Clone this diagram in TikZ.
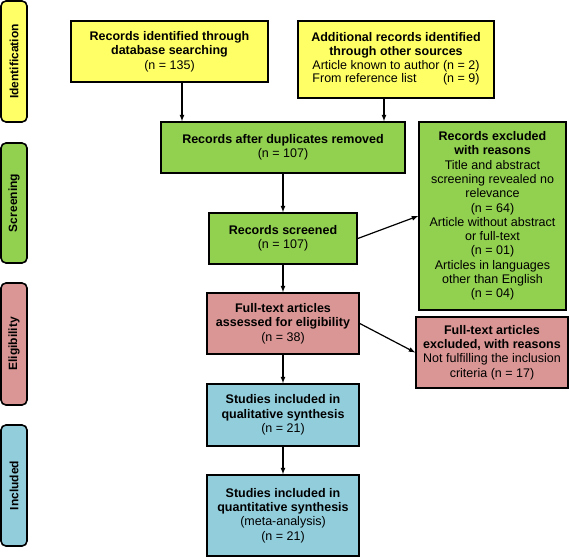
\documentclass[tikz,border=0pt]{standalone}
\usepackage{fontspec}
\setmainfont{Liberation Sans}
\usetikzlibrary{positioning,calc}
\definecolor{idyellow}{HTML}{FFFF66}
\definecolor{scgreen}{HTML}{92D050}
\definecolor{elpink}{HTML}{D99694}
\definecolor{inblue}{HTML}{92CDDC}
\tikzset{
	box/.style={draw=black, line width=1.6pt, align=center, inner sep=2pt, font=\fontsize{12.5}{14.3}\selectfont},
	phase/.style={draw=black, line width=1.6pt, rounded corners=5pt, rotate=90, minimum height=26pt, inner sep=0pt, font=\fontsize{12}{14}\selectfont\bfseries},
	arr/.style={->, >=latex, line width=1.2pt}
}
\begin{document}
\begin{tikzpicture}[x=1pt,y=-1pt]
				\useasboundingbox (0,0) rectangle (570,557);
				\node[phase, fill=idyellow, minimum width=121pt] (ident) at (14,61.5) {Identification};
				\node[phase, fill=scgreen, minimum width=120pt] (screen) at (14,203) {Screening};
				\node[phase, fill=elpink, minimum width=122pt] (elig) at (14,344) {Eligibility};
				\node[phase, fill=inblue, minimum width=121pt] (incl) at (14,485.5) {Included};
				\node[box, fill=idyellow, minimum width=197pt, minimum height=61pt] (dbase) at (169.5,51.5) {\textbf{Records identified through}\\\textbf{database searching}\\(n = 135)};
				\node[box, fill=idyellow, minimum width=196pt, minimum height=77pt] (other) at (396,59.5) {\textbf{Additional records identified}\\\textbf{through other sources}\\\begin{tabular}{@{}l@{ }r@{}}Article known to author & (n = 2)\\[-1.5pt] From reference list & (n = 9)\end{tabular}};
				\node[box, fill=scgreen, minimum width=244pt, minimum height=51pt] (dup) at (283,147.5) {\textbf{Records after duplicates removed}\\(n = 107)};
				\node[box, fill=scgreen, minimum width=147pt, minimum height=188pt] (excl) at (492.5,216) {\textbf{Records excluded}\\\textbf{with reasons}\\Title and abstract\\screening revealed no\\relevance\\(n = 64)\\Article without abstract\\or full-text\\(n = 01)\\Articles in languages\\other than English\\(n = 04)};
				\node[box, fill=scgreen, minimum width=148pt, minimum height=51pt] (scr) at (283,238.5) {\textbf{Records screened}\\(n = 107)};
				\node[box, fill=elpink, minimum width=152pt, minimum height=61pt] (full) at (283,323.5) {\textbf{Full-text articles}\\\textbf{assessed for eligibility}\\(n = 38)};
				\node[box, fill=elpink, minimum width=152pt, minimum height=71pt] (fullexcl) at (492,352.5) {\textbf{Full-text articles}\\\textbf{excluded, with reasons}\\Not fulfilling the inclusion\\criteria (n = 17)};
				\node[box, fill=inblue, minimum width=152pt, minimum height=62pt] (qual) at (283,415) {\textbf{Studies included in}\\\textbf{qualitative synthesis}\\(n = 21)};
				\node[box, fill=inblue, minimum width=152pt, minimum height=81pt] (quant) at (283,515.5) {\textbf{Studies included in}\\\textbf{quantitative synthesis}\\(meta-analysis)\\(n = 21)};
				\draw[arr] ([xshift=12.5pt]dbase.south) -- ([xshift=12.5pt]dbase.south |- dup.north);
				\draw[arr] ([xshift=-12pt]other.south) -- ([xshift=-12pt]other.south |- dup.north);
				\draw[arr] (dup) -- (scr);
				\draw[arr] (scr.east) -- (excl.west);
				\draw[arr] (scr) -- (full);
				\draw[arr] (full.east) -- (fullexcl.west);
				\draw[arr] (full) -- (qual);
				\draw[arr] (qual) -- (quant);
	\end{tikzpicture}
\end{document}
